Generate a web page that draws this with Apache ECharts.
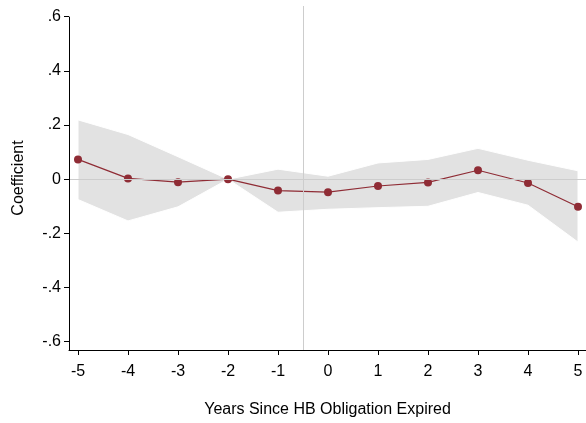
<!DOCTYPE html>
<html>
<head>
<meta charset="utf-8">
<script src="https://cdn.jsdelivr.net/npm/echarts@6/dist/echarts.min.js"></script>
<style>
  html, body { margin: 0; padding: 0; background: #fff; }
  #chart { width: 586px; height: 423px; }
</style>
</head>
<body>
<div id="chart"></div>
<script>
// Event-study estimates with 95% confidence band
const years = [-5, -4, -3, -2, -1, 0, 1, 2, 3, 4, 5];
const coef = [0.073, 0.003, -0.011, 0.0, -0.042, -0.048, -0.025, -0.012, 0.033, -0.014, -0.102];
const ciLow = [-0.075, -0.154, -0.102, 0.0, -0.122, -0.111, -0.105, -0.100, -0.049, -0.096, -0.232];
const ciHigh = [0.219, 0.165, 0.083, 0.0, 0.037, 0.011, 0.060, 0.073, 0.114, 0.070, 0.031];
const yTicks = [-0.6, -0.4, -0.2, 0, 0.2, 0.4, 0.6];
const yTickLabels = ['-.6', '-.4', '-.2', '0', '.2', '.4', '.6'];
const xTicks = [-5, -4, -3, -2, -1, 0, 1, 2, 3, 4, 5];
const eventLine = -0.5;

const X_MIN = -5.18, X_MAX = 5.16;
const Y_MIN = -0.6306, Y_MAX = 0.6395;
const RED = '#8f2c35';
const FONT = '"Liberation Sans", Arial, sans-serif';
const FONT_SIZE = 16;

const chart = echarts.init(document.getElementById('chart'), null, { renderer: 'canvas' });

chart.setOption({
  animation: false,
  backgroundColor: '#ffffff',
  grid: { left: 69, right: 0, top: 6, bottom: 73, containLabel: false },
  xAxis: {
    type: 'value',
    min: X_MIN,
    max: X_MAX,
    name: 'Years Since HB Obligation Expired',
    nameLocation: 'middle',
    nameGap: 52,
    nameTextStyle: { fontFamily: FONT, fontSize: FONT_SIZE, color: '#000' },
    axisLine: { show: true, onZero: false, lineStyle: { color: '#000', width: 1 } },
    axisTick: { show: true, length: 5, lineStyle: { color: '#000' }, customValues: xTicks },
    axisLabel: {
      show: true, margin: 14, color: '#000', fontFamily: FONT, fontSize: FONT_SIZE,
      customValues: xTicks,
      formatter: v => String(v)
    },
    splitLine: { show: false }
  },
  yAxis: {
    type: 'value',
    min: Y_MIN,
    max: Y_MAX,
    name: 'Coefficient',
    nameLocation: 'middle',
    nameGap: 42,
    nameRotate: 90,
    nameTextStyle: { fontFamily: FONT, fontSize: FONT_SIZE, color: '#000' },
    axisLine: { show: false, onZero: false },
    axisTick: { show: true, length: 5, lineStyle: { color: '#000' }, customValues: yTicks },
    axisLabel: {
      show: true, margin: 8, color: '#000', fontFamily: FONT, fontSize: FONT_SIZE,
      customValues: yTicks,
      formatter: v => {
        const i = yTicks.findIndex(t => Math.abs(t - v) < 1e-6);
        return i >= 0 ? yTickLabels[i] : '';
      }
    },
    splitLine: { show: false }
  },
  series: [
    {
      // confidence band polygon
      type: 'custom',
      z: 1,
      silent: true,
      clip: true,
      data: [0],
      renderItem: (params, api) => {
        const upper = years.map((x, i) => api.coord([x, ciHigh[i]]));
        const lower = years.map((x, i) => api.coord([x, ciLow[i]])).reverse();
        return {
          type: 'polygon',
          shape: { points: upper.concat(lower) },
          style: { fill: '#e2e2e2', stroke: '#ffffff', lineWidth: 1 }
        };
      },
      markLine: {
        silent: true,
        symbol: 'none',
        label: { show: false },
        lineStyle: { color: '#cdcdcd', width: 1, type: 'solid' },
        data: [
          { yAxis: 0 },
          { xAxis: eventLine }
        ]
      }
    },
    {
      // y axis line running from the bottom of the plot to the top tick
      type: 'line',
      z: 2,
      silent: true,
      data: [],
      markLine: {
        silent: true,
        symbol: 'none',
        label: { show: false },
        lineStyle: { color: '#000', width: 1, type: 'solid' },
        data: [[{ coord: [X_MIN, Y_MIN] }, { coord: [X_MIN, yTicks[yTicks.length - 1]] }]]
      }
    },
    {
      type: 'line',
      z: 3,
      data: years.map((x, i) => [x, coef[i]]),
      symbol: 'circle',
      symbolSize: 8,
      itemStyle: { color: RED },
      lineStyle: { color: RED, width: 1.2 }
    }
  ]
});
</script>
</body>
</html>
